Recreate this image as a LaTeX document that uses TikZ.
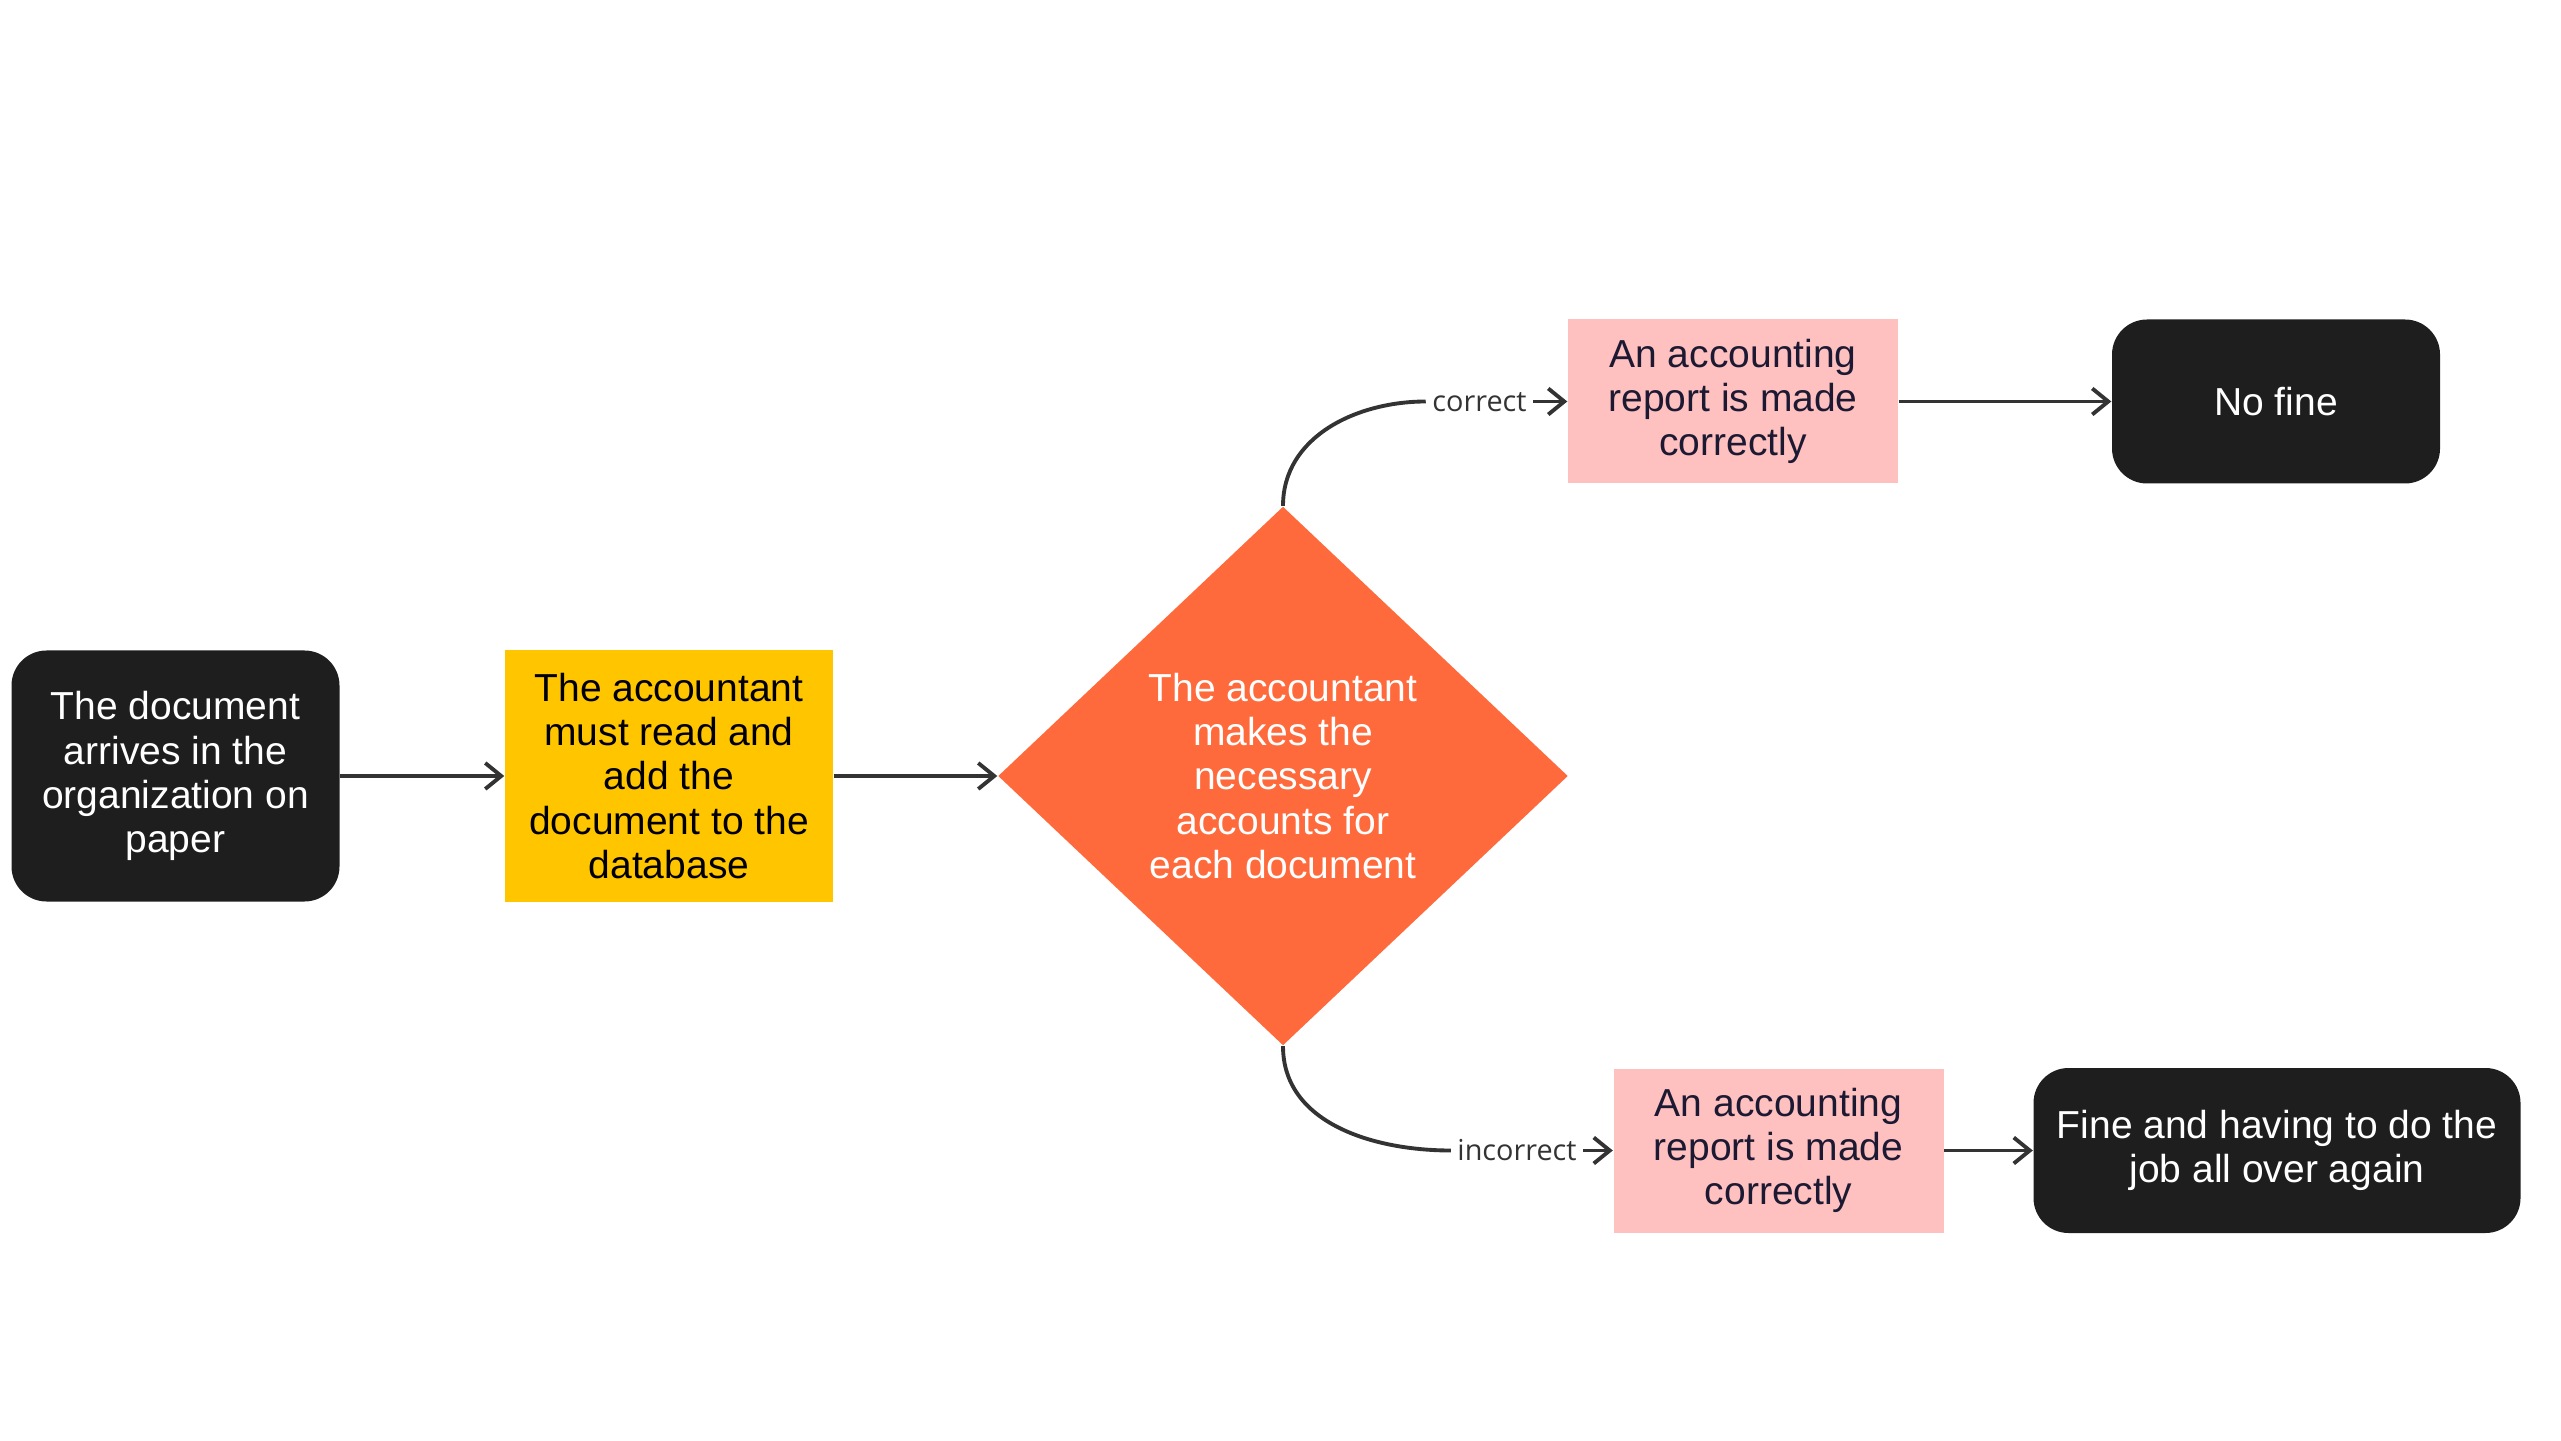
\documentclass[tikz,border=0pt]{standalone}
\usepackage{fontspec}
\setmainfont{Liberation Sans}
\newfontfamily\branchfont{Open Sans}
\usetikzlibrary{arrows.meta,shapes.geometric}

\definecolor{boxblack}{HTML}{1E1E1E}
\definecolor{boxyellow}{HTML}{FFC600}
\definecolor{boxorange}{HTML}{FF6A3C}
\definecolor{boxpink}{HTML}{FFC0C0}
\definecolor{inkdark}{HTML}{1C1A33}
\definecolor{linegray}{HTML}{333333}

\begin{document}
\begin{tikzpicture}[
	every node/.style={font=\fontsize{11.1}{12.55}\selectfont, align=center, inner sep=0pt},
	endbox/.style={fill=boxblack, text=white, rounded corners=0.35cm, minimum width=3.28cm, minimum height=2.51cm},
	taskbox/.style={fill=boxyellow, text=black, minimum width=3.28cm, minimum height=2.51cm},
	choice/.style={diamond, fill=boxorange, text=white, minimum width=5.70cm, minimum height=5.39cm},
	reportbox/.style={fill=boxpink, text=inkdark, minimum width=3.30cm, minimum height=1.64cm},
	branch/.style={font=\branchfont\fontsize{8.2}{9}\selectfont, text=linegray, text height=1.07ex, text depth=0pt, inner xsep=0.6mm},
	link/.style={draw=linegray, line width=1.1pt},
	flow/.style={link, -{Straight Barb[length=1.6mm,width=2.6mm]}}
	]

	\useasboundingbox (0,0) rectangle (25.61,14.40);

	\node[endbox] (arrive) at (1.755,6.64) {The document\\arrives in the\\organization on\\paper};
	\node[taskbox] (enter) at (6.69,6.64) {The accountant\\must read and\\add the\\document to the\\database};
	\node[choice] (check) at (12.83,6.64) {The accountant\\makes the\\necessary\\accounts for\\each document};

	\node[reportbox] (repok) at (17.33,10.385) {An accounting\\report is made\\correctly};
	\node[endbox, minimum height=1.64cm] (nofine) at (22.76,10.385) {No fine};

	\node[reportbox] (repbad) at (17.785,2.895) {An accounting\\report is made\\correctly};
	\node[endbox, minimum width=4.87cm, minimum height=1.65cm] (refine) at (22.77,2.895) {Fine and having to do the\\job all over again};

	\node[branch] (okl) at (14.795,10.385) {correct};
	\node[branch] (badl) at (15.17,2.895) {incorrect};

	\draw[flow] (arrive) -- (enter);
	\draw[flow] (enter) -- (check);

	\draw[link] (check.north) to[out=90,in=180] (okl.west);
	\draw[flow] (okl.east) -- (repok.west);
	\draw[flow] (repok) -- (nofine);

	\draw[link] (check.south) to[out=-90,in=180] (badl.west);
	\draw[flow] (badl.east) -- (repbad.west);
	\draw[flow] (repbad) -- (refine);

\end{tikzpicture}
\end{document}
